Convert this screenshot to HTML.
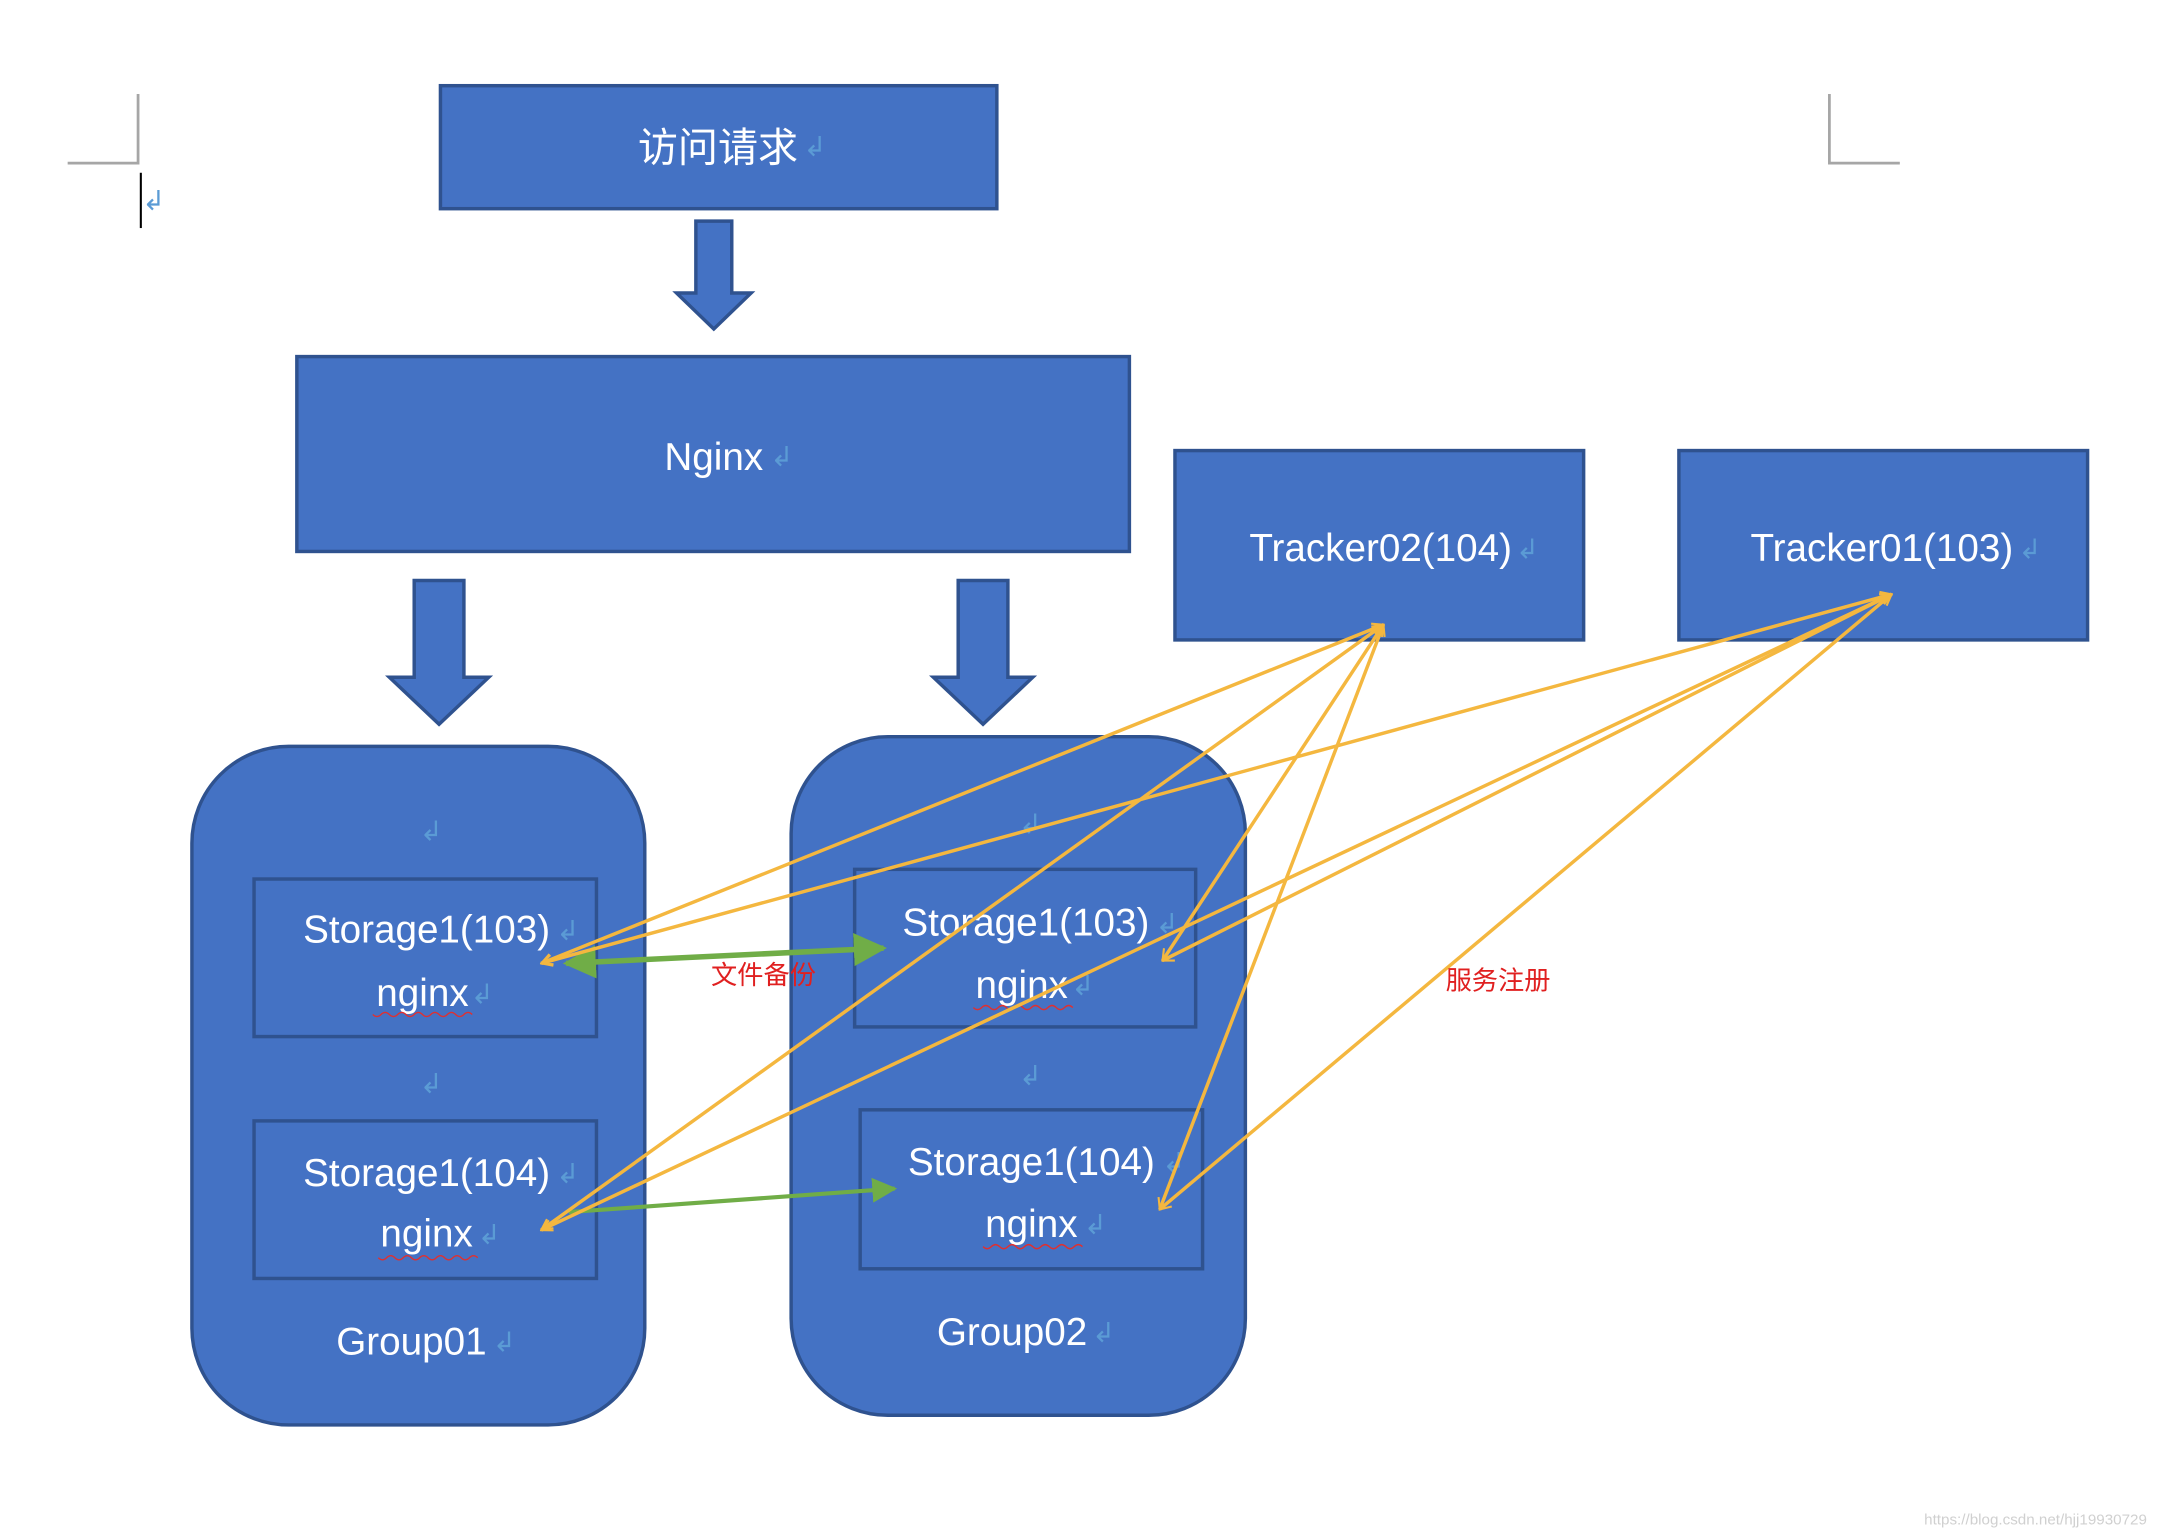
<!DOCTYPE html>
<html><head><meta charset="utf-8"><style>
html,body{margin:0;padding:0;background:#fff;}
svg{display:block;}
text{font-family:"Liberation Sans","Noto Sans CJK SC",sans-serif;}
</style></head><body>
<svg width="2158" height="1530" viewBox="0 0 1563 1107" preserveAspectRatio="none" xmlns="http://www.w3.org/2000/svg">
<defs>
<marker id="y" viewBox="0 0 20 20" refX="18" refY="10" markerWidth="10" markerHeight="10" orient="auto-start-reverse" markerUnits="userSpaceOnUse"><path d="M2,2 L18,10 L2,18" fill="none" stroke="#F4B73F" stroke-width="3"/></marker>
<marker id="g" viewBox="0 0 20 20" refX="18" refY="10" markerWidth="6" markerHeight="6" orient="auto-start-reverse"><path d="M0,0 L20,10 L0,20 z" fill="#70AD47"/></marker>
</defs>
<g stroke="#A6A6A6" stroke-width="2" fill="none">
<path d="M100,68 V118 H49"/><path d="M1325,68 V118 H1376"/>
</g>
<line x1="102" y1="125" x2="102" y2="165" stroke="#000" stroke-width="1.5"/>
<text x="103" y="152" fill="#5B9BD5" font-size="20">↲</text>
<g fill="#4472C4" stroke="#2F528F" stroke-width="2.5">
<rect x="319" y="62" width="403" height="89"/>
<rect x="215" y="258" width="603" height="141"/>
<rect x="851" y="326" width="296" height="137"/>
<rect x="1216" y="326" width="296" height="137"/>
<path d="M504,160 H530 V212 H544 L517,238 L490,212 H504 Z"/>
<path d="M300,420 H336 V490 H354 L318,524 L282,490 H300 Z"/>
<path d="M694,420 H730 V490 H748 L712,524 L676,490 H694 Z"/>
<rect x="139" y="540" width="328" height="491" rx="70"/>
<rect x="573" y="533" width="329" height="491" rx="70"/>
<rect x="184" y="636" width="248" height="114"/>
<rect x="184" y="811" width="248" height="114"/>
<rect x="619" y="629" width="247" height="114"/>
<rect x="623" y="803" width="248" height="115"/>
</g>
<g fill="#fff" text-anchor="middle" font-size="28">
<text x="520" y="117" font-size="29">访问请求</text>
<text x="517" y="340">Nginx</text>
<text x="1000" y="406">Tracker02(104)</text>
<text x="1363" y="406">Tracker01(103)</text>
<text x="309" y="682">Storage1(103)</text>
<text x="306" y="728">nginx</text>
<text x="309" y="858">Storage1(104)</text>
<text x="309" y="902">nginx</text>
<text x="743" y="677">Storage1(103)</text>
<text x="740" y="722">nginx</text>
<text x="747" y="850">Storage1(104)</text>
<text x="747" y="895">nginx</text>
<text x="298" y="980">Group01</text>
<text x="733" y="973">Group02</text>
</g>
<g fill="#5B9BD5" font-size="20">
<text x="582" y="113">↲</text><text x="558" y="337">↲</text>
<text x="1098" y="404">↲</text><text x="1462" y="404">↲</text>
<text x="304" y="608">↲</text><text x="304" y="791">↲</text>
<text x="738" y="603">↲</text><text x="738" y="785">↲</text>
<text x="403" y="680">↲</text><text x="341" y="726">↲</text>
<text x="403" y="856">↲</text><text x="346" y="900">↲</text>
<text x="837" y="675">↲</text><text x="776" y="720">↲</text>
<text x="842" y="848">↲</text><text x="785" y="893">↲</text>
<text x="357" y="978">↲</text><text x="791" y="971">↲</text>
</g>
<g stroke="#E03030" stroke-width="1" fill="none">
<path d="M270,734 q3,3 6,0 t6,0 t6,0 t6,0 t6,0 t6,0 t6,0 t6,0 t6,0 t6,0 t6,0 t6,0"/>
<path d="M274,910 q3,3 6,0 t6,0 t6,0 t6,0 t6,0 t6,0 t6,0 t6,0 t6,0 t6,0 t6,0 t6,0"/>
<path d="M705,729 q3,3 6,0 t6,0 t6,0 t6,0 t6,0 t6,0 t6,0 t6,0 t6,0 t6,0 t6,0 t6,0"/>
<path d="M712,902 q3,3 6,0 t6,0 t6,0 t6,0 t6,0 t6,0 t6,0 t6,0 t6,0 t6,0 t6,0 t6,0"/>
</g>
<line x1="410" y1="697" x2="640" y2="686" stroke="#70AD47" stroke-width="4" marker-start="url(#g)" marker-end="url(#g)"/>
<line x1="412" y1="877" x2="648" y2="860" stroke="#70AD47" stroke-width="3" marker-end="url(#g)"/>
<g stroke="#F4B73F" stroke-width="2.5" fill="none" marker-start="url(#y)" marker-end="url(#y)">
<line x1="1002" y1="452" x2="392" y2="697"/>
<line x1="1002" y1="452" x2="392" y2="890"/>
<line x1="1002" y1="452" x2="842" y2="695"/>
<line x1="1002" y1="452" x2="840" y2="875"/>
<line x1="1370" y1="430" x2="392" y2="697"/>
<line x1="1370" y1="430" x2="392" y2="890"/>
<line x1="1370" y1="430" x2="842" y2="695"/>
<line x1="1370" y1="430" x2="840" y2="875"/>
</g>
<text x="553" y="712" fill="#E02020" font-size="19" text-anchor="middle">文件备份</text>
<text x="1085" y="716" fill="#E02020" font-size="19" text-anchor="middle">服务注册</text>
<text x="1555" y="1103" fill="#D0D0D0" font-size="11" text-anchor="end">https://blog.csdn.net/hjj19930729</text>
</svg>
</body></html>
